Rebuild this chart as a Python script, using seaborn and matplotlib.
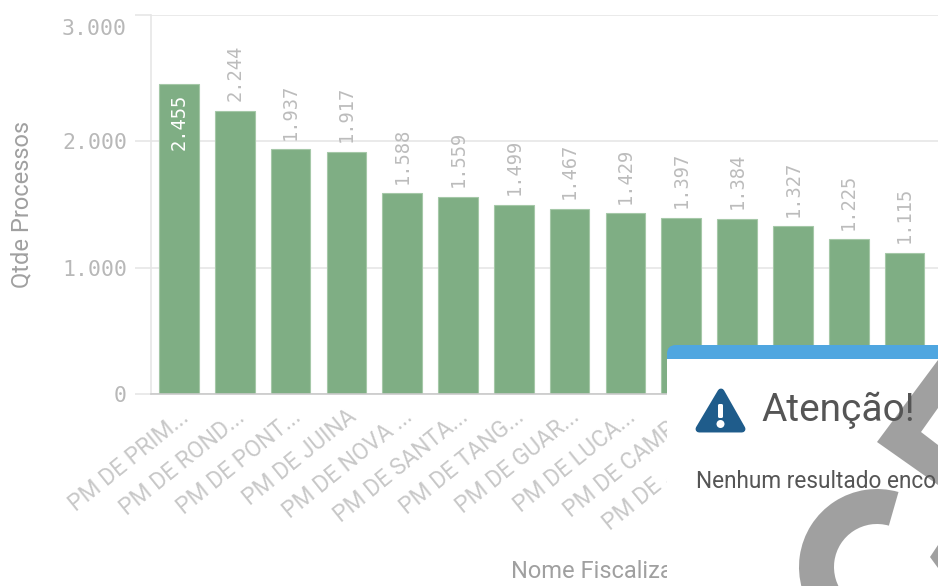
"""Bar chart of Qtde Processos por fiscalizada, with the alert dialog on top."""

import matplotlib

matplotlib.use("Agg")

import matplotlib.pyplot as plt
import pandas as pd
import seaborn as sns
from matplotlib.patches import Circle, FancyBboxPatch, Polygon, Rectangle, Wedge
from matplotlib.transforms import ScaledTranslation

# last labels are mostly hidden by the dialog, only "PM DE" of the 11th shows
CATEGORIES = [
    "PM DE PRIM...", "PM DE ROND...", "PM DE PONT...", "PM DE JUINA",
    "PM DE NOVA ...", "PM DE SANTA...", "PM DE TANG...", "PM DE GUAR...",
    "PM DE LUCA...", "PM DE CAMP...", "PM DE .................", "PM DE  ...",
    "PM DE   ...", "PM DE    ...",
]
VALUES = [2455, 2244, 1937, 1917, 1588, 1559, 1499, 1467, 1429, 1397, 1384, 1327, 1225, 1115]
Y_TICKS = [0, 1000, 2000, 3000]

W, H = 938, 586
BAR_COLOR = "#7fae84"
GRID = "#e6e6e6"
PX = 72 / 100  # points per pixel at dpi 100

sns.set_theme(style="white")
plt.rcParams["font.family"] = ["Roboto", "DejaVu Sans"]


def fmt(v):
    return f"{v:,}".replace(",", ".")


df = pd.DataFrame({"nome": CATEGORIES, "qtde": VALUES})

fig = plt.figure(figsize=(W / 100, H / 100), dpi=100)
ax = fig.add_axes([151 / W, (H - 394) / H, (W - 151) / W, 379 / H])
sns.barplot(
    data=df, x="nome", y="qtde", color=BAR_COLOR, saturation=1, width=0.71,
    edgecolor="#a5c8a8", linewidth=0.8, ax=ax, zorder=3,
)
ax.set_xlim(-0.5, 13.6)
ax.set_ylim(0, 3000)

sns.despine(ax=ax, top=True, right=True, bottom=False, left=False)
ax.spines["left"].set_color(GRID)
ax.spines["left"].set_linewidth(1.2)
ax.spines["bottom"].set_color("#c9c9c9")
ax.spines["bottom"].set_linewidth(1.2)
ax.spines["bottom"].set_zorder(4)
ax.yaxis.grid(True, color=GRID, linewidth=1.2, zorder=0)
ax.set_axisbelow(True)

ax.set_yticks(Y_TICKS)
ax.set_yticklabels([fmt(t) for t in Y_TICKS], family="DejaVu Sans Mono", fontsize=15.5, color="#b8b8b8")
ax.tick_params(axis="y", length=16 * PX, width=1.2, color=GRID, pad=8 * PX, left=True)
# top label sits under its gridline, as in the original
top_label = ax.get_yticklabels()[-1]
top_label.set_verticalalignment("top")
top_label.set_transform(top_label.get_transform() + ScaledTranslation(0, -4 / 100, fig.dpi_scale_trans))

ax.set_xticks(range(len(CATEGORIES)))
ax.set_xticklabels(
    CATEGORIES, rotation=39, ha="right", rotation_mode="anchor",
    fontsize=16.5, color="#c8c8c8",
)
ax.tick_params(axis="x", length=0, pad=8, bottom=False)

ax.set_xlabel("")
ax.set_ylabel("")

# value labels, first one sits inside the bar
for i, v in enumerate(VALUES):
    inside = i == 0
    ax.annotate(
        fmt(v), (i, v), xytext=(0, -7 if inside else 7), textcoords="offset points", rotation=90,
        ha="center", va="top" if inside else "bottom", family="DejaVu Sans Mono", fontsize=13.5,
        color="white" if inside else "#bcbcbc", zorder=5,
    )

fig.text(22 / W, 1 - 205 / H, "Qtde Processos", rotation=90, ha="center", va="center",
         fontsize=17, color="#a0a0a0")
fig.text(511 / W, 1 - 571 / H, "Nome Fiscalização", ha="left", va="center",
         fontsize=17, color="#a0a0a0", zorder=1)

# dialog overlay, drawn in pixel coordinates
over = fig.add_axes([0, 0, 1, 1], zorder=10)
over.set_xlim(0, W)
over.set_ylim(H, 0)
over.axis("off")
over.patch.set_alpha(0)

over.add_patch(FancyBboxPatch((667, 345), 400, 300, boxstyle="round,pad=0,rounding_size=9",
                              facecolor="#4fa6e0", edgecolor="none"))
over.add_patch(Rectangle((667, 359), 300, 240, facecolor="white", edgecolor="none"))

# grey spinner behind the text
SPIN = "#a0a0a0"
over.add_patch(Polygon([(938, 360), (877, 442), (938, 485), (938, 445), (921, 432), (938, 408)],
                       closed=True, facecolor=SPIN, edgecolor="none"))
over.add_patch(Wedge((877, 567), 78, 90, 286, width=35, facecolor=SPIN, edgecolor="none"))
over.add_patch(Polygon([(938, 545), (930, 557), (938, 568)], closed=True, facecolor=SPIN, edgecolor="none"))

# warning icon
over.add_patch(Polygon([(699, 429), (721, 392), (742, 429)], closed=True, facecolor="#1f5c8b",
                       edgecolor="#1f5c8b", linewidth=5, joinstyle="round"))
over.add_patch(FancyBboxPatch((718, 404), 5, 14, boxstyle="round,pad=0,rounding_size=1.5",
                              facecolor="white", edgecolor="none"))
over.add_patch(Circle((720.5, 424), 4, facecolor="white", edgecolor="none"))

over.text(761, 410, "Atenção!", ha="left", va="center", fontsize=28, color="#555555")
over.text(696, 482, "Nenhum resultado enco", ha="left", va="center", fontsize=16.3, color="#555555")

fig.savefig("out.png", dpi=100)
